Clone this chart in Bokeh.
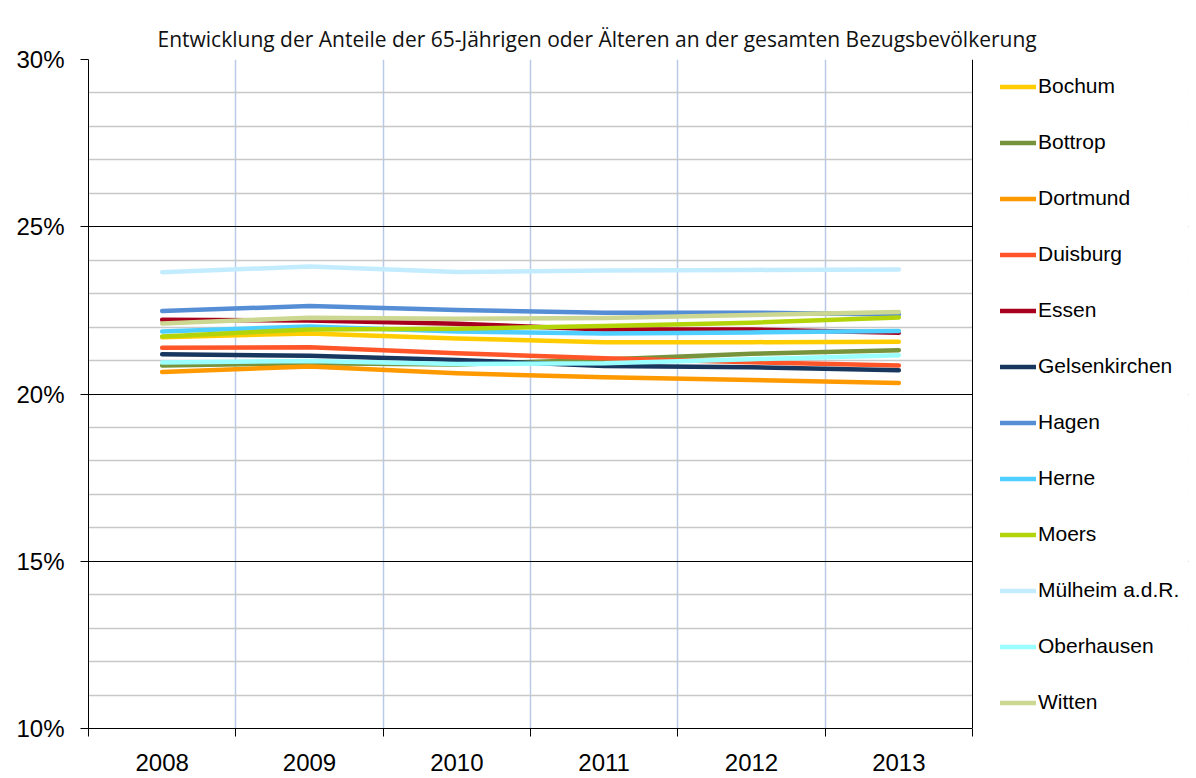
from bokeh.plotting import figure
from bokeh.models import (FixedTicker, PrintfTickFormatter, Legend, LegendItem, Range1d,
                          BoxAnnotation, Span, LinearAxis)
from bokeh.embed import file_html
from bokeh.resources import INLINE

years = [2008, 2009, 2010, 2011, 2012, 2013]
cities = ["Bochum", "Bottrop", "Dortmund", "Duisburg", "Essen", "Gelsenkirchen",
          "Hagen", "Herne", "Moers", "Mülheim a.d.R.", "Oberhausen", "Witten"]

bochum        = [21.70, 21.81, 21.66, 21.55, 21.55, 21.56]
bottrop       = [20.85, 20.92, 20.88, 21.03, 21.20, 21.31]
dortmund      = [20.66, 20.82, 20.62, 20.50, 20.42, 20.33]
duisburg      = [21.38, 21.40, 21.22, 21.07, 20.95, 20.85]
essen         = [22.22, 22.20, 22.10, 21.93, 21.93, 21.83]
gelsenkirchen = [21.19, 21.14, 21.02, 20.84, 20.80, 20.71]
hagen         = [22.48, 22.63, 22.51, 22.43, 22.43, 22.38]
herne         = [21.87, 22.02, 21.87, 21.81, 21.84, 21.88]
moers         = [21.72, 21.93, 21.95, 22.03, 22.13, 22.29]
muelheim      = [23.64, 23.81, 23.65, 23.69, 23.71, 23.72]
oberhausen    = [20.94, 20.99, 20.90, 20.92, 21.04, 21.16]
witten        = [22.11, 22.28, 22.25, 22.27, 22.36, 22.45]

series = [bochum, bottrop, dortmund, duisburg, essen, gelsenkirchen,
          hagen, herne, moers, muelheim, oberhausen, witten]
colors = ["#FFCC00", "#77933C", "#FF9900", "#FF5528", "#A6001E", "#17375E",
          "#558ED5", "#4FCFFF", "#B4D40A", "#C4ECFF", "#99FFFF", "#CCD891"]

y_major = [10, 15, 20, 25, 30]
y_minor = [v for v in range(10, 31) if v % 5 != 0]
x_start = years[0] - 0.5
x_stop = years[-1] + 0.5
x_bounds = [y - 0.5 for y in years] + [x_stop]

# plot area is 884 px wide; the frame is widened to 1100 px to hold the legend on its right
PLOT_W, FRAME_W = 884, 1100
x_end = x_start + (x_stop - x_start) * FRAME_W / PLOT_W

p = figure(width=1196, height=774, output_backend="svg", toolbar_location=None,
           x_range=Range1d(x_start, x_end),
           y_range=Range1d(10, 30),
           min_border_left=88, min_border_right=8, min_border_top=59, min_border_bottom=46,
           background_fill_color="white", border_fill_color="white")

p.title.text = "Entwicklung der Anteile der 65-Jährigen oder Älteren an der gesamten Bezugsbevölkerung"
p.title.text_font = "Open Sans"
p.title.text_font_size = "21px"
p.title.text_font_style = "normal"
p.title.text_color = "#111111"
p.title.align = "left"
p.title.vertical_align = "top"
p.title.offset = 69
p.title.standoff = 10

p.outline_line_color = None

# X axis (bottom)
xax = p.below[0]
xax.ticker = FixedTicker(ticks=years, minor_ticks=x_bounds)
xax.bounds = (x_start, x_stop)
xax.major_tick_out = 0
xax.major_tick_in = 0
xax.minor_tick_out = 8
xax.minor_tick_in = 0
xax.minor_tick_line_color = "black"
xax.axis_line_color = "black"
xax.major_label_text_font = "Liberation Sans"
xax.major_label_text_font_size = "24px"
xax.major_label_text_color = "black"
xax.major_label_standoff = 17

# invisible spacer between the title and the plot area
top_spacer = LinearAxis(ticker=FixedTicker(ticks=[]), major_tick_out=18, major_tick_in=0,
                        minor_tick_out=0, minor_tick_in=0, major_label_standoff=0,
                        major_label_text_alpha=0,
                        axis_line_alpha=0, major_tick_line_alpha=0, minor_tick_line_alpha=0)
p.add_layout(top_spacer, "above")

# Y axis
p.yaxis.ticker = FixedTicker(ticks=y_major)
p.yaxis.formatter = PrintfTickFormatter(format="%d%%")
p.yaxis.major_tick_out = 8
p.yaxis.major_tick_in = 0
p.yaxis.minor_tick_out = 0
p.yaxis.minor_tick_in = 0
p.yaxis.major_tick_line_color = "black"
p.yaxis.axis_line_color = "black"
p.yaxis.major_label_text_font = "Liberation Sans"
p.yaxis.major_label_text_font_size = "24px"
p.yaxis.major_label_text_color = "black"
p.yaxis.major_label_standoff = 16

# Grids
p.xgrid.ticker = FixedTicker(ticks=x_bounds[1:-1])
p.xgrid.grid_line_color = "#B9C9E6"
p.xgrid.grid_line_width = 1.5
p.ygrid.ticker = FixedTicker(ticks=y_major, minor_ticks=y_minor)
p.ygrid.grid_line_color = "black"
p.ygrid.grid_line_width = 1
p.ygrid.minor_grid_line_color = "#C8C8C8"
p.ygrid.minor_grid_line_width = 1.5

items = []
for name, vals, col in zip(cities, series, colors):
    r = p.line(years, vals, line_color=col, line_width=4.5, line_cap="round", line_join="round")
    items.append(LegendItem(label=name, renderers=[r]))

# white area right of the plot area (legend zone) and the plot area's right border
p.add_layout(BoxAnnotation(left=x_stop, right=x_end + 1, fill_color="white", fill_alpha=1.0,
                           line_alpha=0, level="annotation"))
p.add_layout(Span(location=x_stop, dimension="height", line_color="black", line_width=1))

legend = Legend(items=items, location=(PLOT_W + 28, 14), orientation="vertical", ncols=1,
                glyph_width=36, glyph_height=21, label_height=21, spacing=32,
                label_standoff=2, padding=0, margin=0,
                label_text_font="Liberation Sans", label_text_font_size="21px",
                label_text_color="black",
                border_line_alpha=0, background_fill_alpha=0)
p.add_layout(legend, "center")

open("out.html", "w").write(file_html(p, INLINE))
